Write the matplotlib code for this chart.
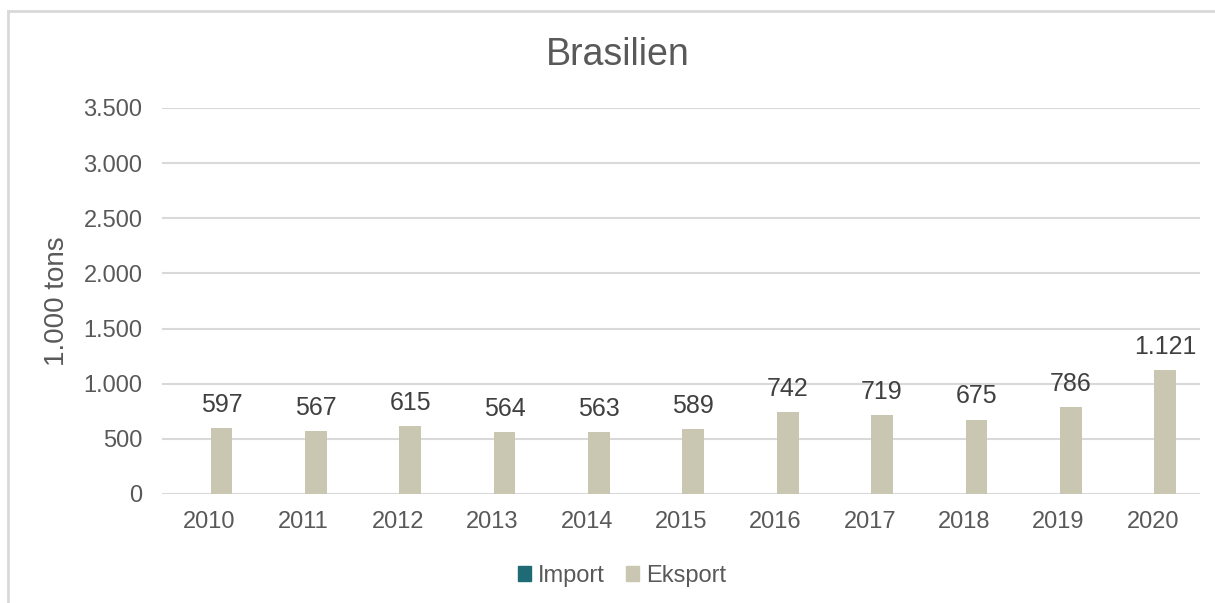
import numpy as np
import matplotlib.pyplot as plt
from matplotlib.lines import Line2D
from matplotlib.patches import Patch

years = ['2010', '2011', '2012', '2013', '2014', '2015', '2016', '2017', '2018', '2019', '2020']
imports = [0, 0, 0, 0, 0, 0, 0, 0, 0, 0, 0]
eksport = [597, 567, 615, 564, 563, 589, 742, 719, 675, 786, 1121]
yticks = [0, 500, 1000, 1500, 2000, 2500, 3000, 3500]

plt.rcParams['font.family'] = ['Liberation Sans', 'DejaVu Sans']
grey = '#595959'
c_imp = '#1F6B75'
c_eks = '#C9C7B1'

def dk(v):
    return f"{v:,.0f}".replace(",", ".")

fig = plt.figure(figsize=(12.15, 6.03), dpi=100)
ax = fig.add_axes([0.1333, 0.1808, 0.8544, 0.6401])

x = np.arange(len(years))
w = 0.23
ax.bar(x - 0.1, imports, w, color=c_imp)
bars = ax.bar(x + 0.13, eksport, w, color=c_eks)
for b, v in zip(bars, eksport):
    ax.annotate(dk(v), (b.get_x() + b.get_width() / 2, v), xytext=(0, 8),
                textcoords='offset points', ha='center', va='bottom',
                fontsize=18, color='#404040')

ax.set_xlim(-0.5, len(years) - 0.5)
ax.set_ylim(0, 3500)
ax.set_yticks(yticks)
ax.set_yticklabels([dk(t) for t in yticks])
ax.set_xticks(x)
ax.set_xticklabels(years)
ax.tick_params(axis='both', length=0, labelsize=17, colors=grey)
ax.tick_params(axis='y', pad=14)
ax.tick_params(axis='x', pad=12)
ax.grid(axis='y', color='#D9D9D9', linewidth=1.5)
ax.set_axisbelow(True)
for s in ax.spines.values():
    s.set_visible(False)
ax.set_ylabel('1.000 tons', fontsize=20, color=grey, labelpad=10)
fig.text(618 / 1215, 1 - 55 / 603, 'Brasilien', fontsize=27, color=grey,
         ha='center', va='center')

handles = [Patch(color=c_imp, label='Import'), Patch(color=c_eks, label='Eksport')]
fig.legend(handles=handles, loc='center', bbox_to_anchor=(622 / 1215, 0.045), ncol=2,
           frameon=False, fontsize=17, labelcolor=grey, handlelength=0.55,
           handleheight=0.55, handletextpad=0.3, columnspacing=0.9)

# chart border
fig.add_artist(Line2D([8 / 1215, 8 / 1215], [0, 1 - 11 / 603], transform=fig.transFigure,
                      color='#D9D9D9', linewidth=2))
fig.add_artist(Line2D([8 / 1215, 1], [1 - 11 / 603, 1 - 11 / 603], transform=fig.transFigure,
                      color='#D9D9D9', linewidth=2))

fig.savefig('out.png', dpi=100)
